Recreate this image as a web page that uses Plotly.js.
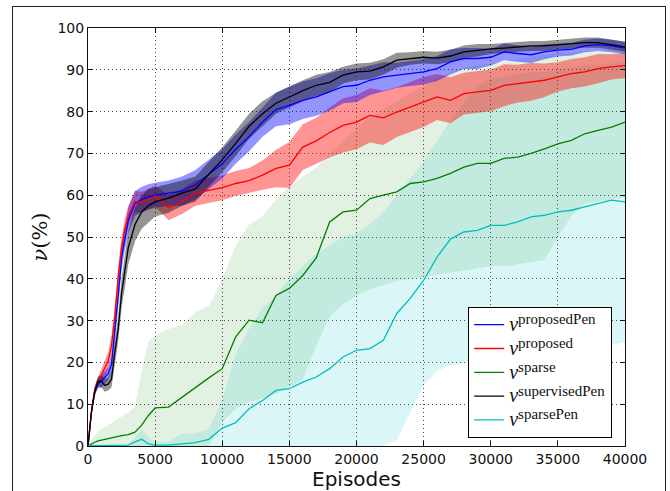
<!DOCTYPE html>
<html><head><meta charset="utf-8">
<script src="https://cdn.plot.ly/plotly-3.0.1.min.js"></script>
<style>
html,body{margin:0;padding:0;background:#fff;overflow:hidden;width:670px;height:491px;}
#chart{position:absolute;left:0;top:0;width:670px;height:491px;}
#frame{position:absolute;left:12px;top:6px;width:652px;height:600px;border:1.5px solid #222;pointer-events:none;}
</style></head><body>
<div id="frame"></div>
<div id="chart"></div>
<script>
// Episodes grid: 0..3000 step 250 (13), 3500..5000 (4), 6000..40000 step 1000 (35)
const episodes = [0,250,500,750,1000,1250,1500,1750,2000,2250,2500,2750,3000,
  3500,4000,4500,5000,
  6000,7000,8000,9000,10000,11000,12000,13000,14000,15000,16000,17000,18000,19000,20000,
  21000,22000,23000,24000,25000,26000,27000,28000,29000,30000,31000,32000,33000,34000,
  35000,36000,37000,38000,39000,40000];

const proposedPen = [0,8,13,15,15.5,16.3,17.3,19.5,27,36,45,50,54,
  58,59,59.6,60,
  60.5,61,62.5,65,67.5,71,74,77.5,
  80.5,81.5,82.7,83.5,84.7,86,86.3,
  87.5,88.3,88.7,89.1,89.5,90.3,91.9,
  92.7,92.7,93,94.3,93.9,93.6,
  94.3,94.7,94.9,95.7,96,95.7,95.2];
const proposedPenSpread = [0,0.8,1,1.2,1.5,1.5,1.5,2,2.5,3,3,3,3,
  3,3,3,3,
  3,3.5,3.5,3.5,3.5,3.5,3.5,3.5,
  4,4.5,4.5,4.5,4.5,4,4,
  3.5,3.5,3,3,3,3,3,
  2.5,2.5,2,2,2,2,
  1.8,1.5,1.5,1.5,1.5,1.5,1.5];

const proposed = [0,8,13.5,15.5,17,18.5,20.3,24,31,40.5,47.5,52,55,
  58.5,58.3,59,59.8,
  57,58.5,60.5,61.2,61.8,62.8,63.5,64.8,
  66.4,67.2,71.5,73,75,76.7,77.5,
  79.1,78.5,79.9,81.1,82.3,83.5,82.7,
  84.3,84.7,85.1,86.3,86.7,87.1,
  87.5,88.3,89.1,89.5,90.3,90.7,91];
const proposedSpread = [0,0.8,1,1.2,1.5,2,2,2.5,2.5,2.5,2.5,2.5,2.5,
  2.5,2.5,2.5,2.5,
  3,3,3,3,3,3,3,3.5,
  4.5,5.5,5.5,5.5,6,6.5,6.5,
  6.5,6.5,6,6,6,5.5,5.5,
  5,5,5,5,4.5,4.5,
  4,3.5,3.5,3.5,3.5,3,3];

const supervisedPen = [0,8,13,15.5,15.5,14.5,14.8,16,22.5,28,36.5,42,47.5,
  53,56,57.5,58.4,
  59.3,60.5,61.5,65,68.5,72.4,76.5,79.5,
  82,83.5,85,86.3,87,88.7,89.5,
  89.7,90.7,92.3,92.7,93,92.8,93.3,
  94.3,94.7,95,95.2,95.5,95.7,
  95.7,96,96.3,96.5,96.5,96,95.5];
const supervisedPenSpread = [0,0.8,1,1.2,1.5,1.5,1.5,2,2.5,3,3.5,4,4,
  4,4,4,3.5,
  3.5,3,3,3,3,3,3,3,
  2.5,2.5,2.5,2.5,2.5,2,2,
  2,1.8,1.8,1.5,1.5,1.5,1.5,
  1.5,1.5,1.2,1.2,1.2,1.2,
  1.2,1.2,1.2,1.2,1.2,1.2,1.2];

const sparse = [0,0.5,0.9,1.2,1.4,1.6,1.8,2,2.2,2.3,2.5,2.6,2.7,
  3.3,5,7.3,9.1,
  9.3,11.7,14.1,16.3,18.5,26.1,30.1,29.5,
  36,37.7,40.8,45,53.6,56,56.4,
  59.2,60,60.8,62.8,63.2,64,65.2,
  66.7,67.6,67.6,68.8,69.1,70,
  71.1,72.3,73.1,74.7,75.5,76.3,77.5];
const sparseUpper = [0,1.5,2.5,3.5,4,4.5,5,5.5,6,6.5,7,7.5,8,
  9.5,18,25,26.5,
  28,29,32,33.5,40,48,53,55,
  59,62,64.5,66.5,70,73,76,
  78.5,80.5,82.5,84.5,86,88,89.5,
  90.5,91,91.5,92,92.5,93,
  93.5,94,94,94.5,94.5,95,95];
const sparseLower = [0,0,0,0,0,0,0,0,0,0,0,0,0,
  0,0,0,0,
  0,0,0,0,5.7,9,10.5,11.4,
  12.5,14,16,24,31,34,36,
  37.5,38.5,39.5,40,40.5,41,41.6,
  42,42.5,43,43,43.5,44,
  44.5,50,55,58,58.5,59,59.5];

const sparsePen = [0,0.1,0.1,0.1,0.1,0.1,0.1,0.1,0.1,0.1,0.1,0.1,0.2,
  1,1.6,0.5,0.2,
  0.2,0.5,0.8,1.6,4.3,5.6,8.9,10.9,
  13.3,13.7,15.3,16.5,18.5,21.3,22.9,
  23.3,25.3,31.7,35.3,39.6,45.2,49.5,
  51.2,51.6,52.8,52.8,53.6,54.8,
  55.2,56,56.4,57.2,58,58.8,58.4];
const sparsePenUpper = [0,0.3,0.3,0.3,0.3,0.3,0.3,0.3,0.3,0.3,0.3,0.3,0.5,
  2,4,2,1,
  1,3,3,4,11,22,28,33,
  36,40,43,46,48,50,51,
  53,56,60,64,68,73,78,
  82,86,88,88.5,89,89.5,
  89.5,90,90.5,91,91,91.5,92];
const sparsePenLower = [0,0,0,0,0,0,0,0,0,0,0,0,0,
  0,0,0,0,
  0,0,0,0,0,0,0,0,
  0,0,0,0,0,0,0,
  0,0,1.5,8,14.5,18,19.3,
  19.8,20.2,20.5,20.8,21.2,21.5,
  21.8,22,22.5,23,23.6,24.2,24.8];

const seriesKeys = ['proposedPen', 'proposed', 'sparse', 'supervisedPen', 'sparsePen'];
const seriesNames = seriesKeys.map(k =>
  '<span style="font-size:20px"><i>ν</i></span><sup><span style="font-size:15px">' + k + '</span></sup>');

function band(upper, lower, color) {
  return {
    x: episodes.concat(episodes.slice().reverse()),
    y: upper.concat(lower.slice().reverse()),
    type: 'scatter', mode: 'lines', fill: 'toself', fillcolor: color,
    line: {width: 0}, hoverinfo: 'skip', showlegend: false
  };
}
const plus = (m, s) => m.map((v, i) => v + s[i]);
const minus = (m, s) => m.map((v, i) => Math.max(0, v - s[i]));

function line(y, color, name) {
  return {x: episodes, y: y, type: 'scatter', mode: 'lines', name: name,
          line: {color: color, width: 1.3}};
}

const data = [
  band(sparseUpper, sparseLower, 'rgba(0,128,0,0.11)'),
  band(sparsePenUpper, sparsePenLower, 'rgba(0,191,191,0.14)'),
  band(plus(proposed, proposedSpread), minus(proposed, proposedSpread), 'rgba(255,0,0,0.42)'),
  band(plus(proposedPen, proposedPenSpread), minus(proposedPen, proposedPenSpread), 'rgba(0,0,255,0.42)'),
  band(plus(supervisedPen, supervisedPenSpread), minus(supervisedPen, supervisedPenSpread), 'rgba(0,0,0,0.42)'),
  line(proposedPen, '#0000ff', seriesNames[0]),
  line(proposed, '#ff0000', seriesNames[1]),
  line(sparse, '#008000', seriesNames[2]),
  line(supervisedPen, '#000000', seriesNames[3]),
  line(sparsePen, '#00bfbf', seriesNames[4])
];

const axisCommon = {
  showgrid: true, gridcolor: '#444', griddash: '1px,3px', gridwidth: 1,
  showline: true, linecolor: '#111', linewidth: 1, mirror: 'ticks',
  ticks: 'inside', ticklen: 5, tickcolor: '#111', zeroline: false,
  tickfont: {family: 'DejaVu Sans', size: 14, color: '#111'}
};

const layout = {
  width: 670, height: 491,
  margin: {l: 88, r: 45, t: 28, b: 45},
  paper_bgcolor: 'rgba(0,0,0,0)', plot_bgcolor: '#fff',
  showlegend: true,
  xaxis: Object.assign({}, axisCommon, {
    range: [0, 40000], tickvals: [0,5000,10000,15000,20000,25000,30000,35000,40000],
    tickformat: 'd',
    title: {text: 'Episodes', font: {family: 'DejaVu Sans', size: 20, color: '#111'}, standoff: 6}
  }),
  yaxis: Object.assign({}, axisCommon, {
    range: [0, 100], dtick: 10,
    title: {text: '<i>ν</i>(%)', font: {family: 'DejaVu Serif', size: 21, color: '#111'}, standoff: 4}
  }),
  legend: {
    x: 0.708, y: 0.333, xanchor: 'left', yanchor: 'top',
    bgcolor: '#fff', bordercolor: '#000', borderwidth: 1,
    font: {family: 'Liberation Serif', size: 16, color: '#111'},
    tracegroupgap: 0, itemwidth: 30
  }
};

Plotly.newPlot('chart', data, layout, {displayModeBar: false, staticPlot: true});
</script></body></html>
